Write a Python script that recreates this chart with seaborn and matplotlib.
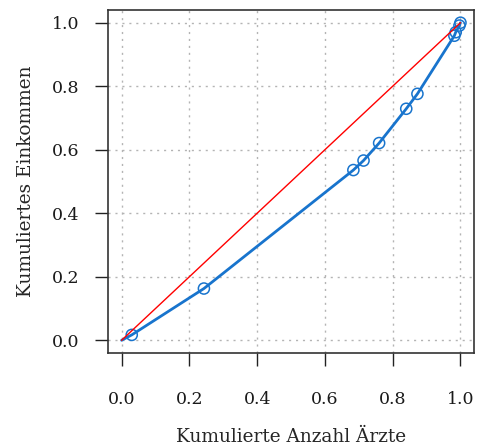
import matplotlib
matplotlib.use("Agg")
import matplotlib.pyplot as plt
import seaborn as sns
import pandas as pd

# Lorenz curve: cumulative share of physicians vs cumulative share of income
cum_aerzte = [0.0, 0.030, 0.243, 0.684, 0.714, 0.760, 0.840, 0.873, 0.982, 0.986, 0.997, 1.0]
cum_einkommen = [0.0, 0.017, 0.163, 0.536, 0.566, 0.621, 0.729, 0.776, 0.959, 0.970, 0.991, 1.0]
gleich_x = [0.0, 1.0]
gleich_y = [0.0, 1.0]
ticks = [0.0, 0.2, 0.4, 0.6, 0.8, 1.0]
tick_labels = ["0.0", "0.2", "0.4", "0.6", "0.8", "1.0"]

df = pd.DataFrame({"x": cum_aerzte, "y": cum_einkommen})
diag = pd.DataFrame({"x": gleich_x, "y": gleich_y})

sns.set_style("white")
plt.rcParams["font.family"] = ["DejaVu Serif"]
plt.rcParams["text.color"] = "#1a1a1a"

blue = "#1874CD"
fig = plt.figure(figsize=(4.79, 4.46), dpi=100)
ax = fig.add_axes([0.2255, 0.2085, 0.9896 - 0.2255, 0.9776 - 0.2085])

ax.set_xlim(-0.04, 1.04)
ax.set_ylim(-0.04, 1.04)

for t in ticks:
    ax.axvline(t, color="#b4b4b4", lw=1.0, ls=(0, (1.5, 3.5)), zorder=0)
    ax.axhline(t, color="#b4b4b4", lw=1.0, ls=(0, (1.5, 3.5)), zorder=0)

sns.lineplot(data=df, x="x", y="y", sort=False, color=blue, lw=2.0, ax=ax, zorder=2)
sns.scatterplot(data=df.iloc[1:], x="x", y="y", marker="o", s=64,
                facecolors="none", edgecolor=blue, linewidth=1.1, ax=ax, zorder=3)
sns.lineplot(data=diag, x="x", y="y", sort=False, color="red", lw=1.0, ax=ax, zorder=4)

ax.set_xticks(ticks)
ax.set_xticklabels(tick_labels)
ax.set_yticks(ticks)
ax.set_yticklabels(tick_labels)
ax.tick_params(axis="both", direction="out", length=9.4, width=1.0, color="#222222",
               labelsize=12.5, labelcolor="#1a1a1a", bottom=True, left=True)
ax.tick_params(axis="x", pad=18)
ax.tick_params(axis="y", pad=11)

for side in ["left", "bottom", "top", "right"]:
    ax.spines[side].set_visible(True)
    ax.spines[side].set_color("#333333")
    ax.spines[side].set_linewidth(1.2)

ax.set_xlabel("Kumulierte Anzahl Ärzte", fontsize=13.3, labelpad=14)
ax.set_ylabel("Kumuliertes Einkommen", fontsize=13.3, labelpad=12)

fig.savefig("out.png", dpi=100)
